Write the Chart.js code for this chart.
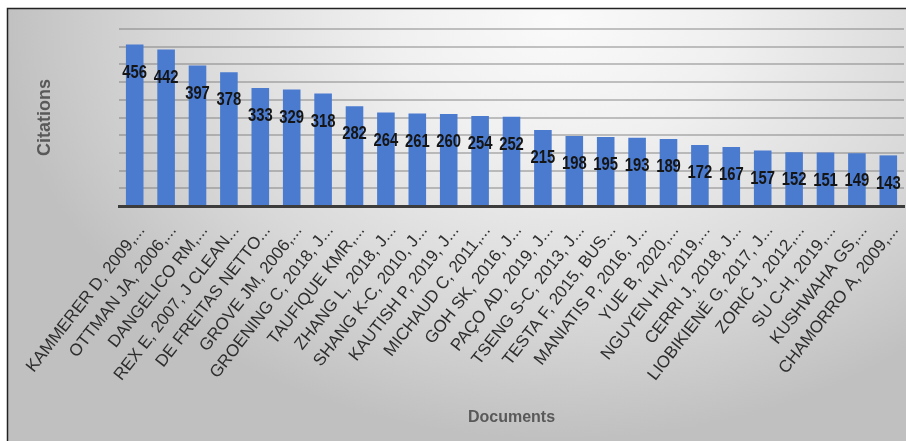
<!DOCTYPE html>
<html>
<head>
<meta charset="utf-8">
<script src="https://cdn.jsdelivr.net/npm/chart.js@4/dist/chart.umd.min.js"></script>
<style>
  html, body { margin: 0; padding: 0; background: #fff; }
  #wrap { width: 906px; height: 441px; position: relative; }
</style>
</head>
<body>
<div id="wrap"><canvas id="c" width="906" height="441"></canvas></div>
<script>
const documents = [
  "KAMMERER D, 2009,...", "OTTMAN JA, 2006,...", "DANGELICO RM,...", "REX E, 2007, J CLEAN...",
  "DE FREITAS NETTO...", "GROVE JM, 2006,...", "GROENING C, 2018, J...", "TAUFIQUE KMR,...",
  "ZHANG L, 2018, J...", "SHANG K-C, 2010, J...", "KAUTISH P, 2019, J...", "MICHAUD C, 2011,...",
  "GOH SK, 2016, J...", "PAÇO AD, 2019, J...", "TSENG S-C, 2013, J...", "TESTA F, 2015, BUS...",
  "MANIATIS P, 2016, J...", "YUE B, 2020,...", "NGUYEN HV, 2019,...", "CERRI J, 2018, J...",
  "LIOBIKIENĖ G, 2017, J...", "ZORIĆ J, 2012,...", "SU C-H, 2019,...", "KUSHWAHA GS,...",
  "CHAMORRO A, 2009,..."
];
const citations = [456, 442, 397, 378, 333, 329, 318, 282, 264, 261, 260, 254, 252, 215,
  198, 195, 193, 189, 172, 167, 157, 152, 151, 149, 143];
const yAxisTitle = "Citations";
const xAxisTitle = "Documents";

const bgPlugin = {
  id: 'bg',
  beforeDraw(chart) {
    const ctx = chart.ctx;
    const W = chart.width, H = chart.height;
    ctx.save();
    ctx.fillStyle = '#ffffff';
    ctx.fillRect(0, 0, W, H);
    ctx.save();
    ctx.beginPath();
    ctx.rect(8, 9, W - 8, H - 9);
    ctx.clip();
    ctx.translate(560, 20);
    ctx.scale(1, 0.75);
    const g = ctx.createRadialGradient(0, 0, 0, 0, 0, 560);
    g.addColorStop(0, '#fafafa');
    g.addColorStop(0.3, '#f0f0f0');
    g.addColorStop(0.7, '#d8d8d8');
    g.addColorStop(1, '#c0c0c0');
    ctx.fillStyle = g;
    ctx.fillRect(-700, -100, 1800, 800);
    ctx.restore();
    ctx.strokeStyle = '#222';
    ctx.lineWidth = 1.5;
    ctx.beginPath();
    ctx.moveTo(7.5, H);
    ctx.lineTo(7.5, 8.5);
    ctx.lineTo(W, 8.5);
    ctx.stroke();
    ctx.restore();
  }
};

const labelPlugin = {
  id: 'vals',
  afterDatasetsDraw(chart) {
    const ctx = chart.ctx;
    const meta = chart.getDatasetMeta(0);
    ctx.save();
    ctx.font = 'bold 19px "Liberation Sans", Arial, sans-serif';
    ctx.fillStyle = '#151515';
    ctx.textAlign = 'center';
    ctx.textBaseline = 'middle';
    meta.data.forEach((bar, i) => {
      ctx.save();
      ctx.translate(bar.x, bar.y + 28);
      ctx.scale(0.78, 1);
      ctx.fillText(String(chart.data.datasets[0].data[i]), 0, 0);
      ctx.restore();
    });
    ctx.restore();
  }
};

new Chart(document.getElementById('c'), {
  type: 'bar',
  data: {
    labels: documents,
    datasets: [{
      data: citations,
      backgroundColor: '#4a7bcf',
      borderWidth: 0,
      categoryPercentage: 1,
      barPercentage: 0.56
    }]
  },
  options: {
    responsive: false,
    animation: false,
    layout: { padding: { top: 29, right: 2, left: 0, bottom: 0 } },
    plugins: { legend: { display: false }, tooltip: { enabled: false } },
    scales: {
      x: {
        afterFit(s) { s.height = 235; s.paddingLeft = 0; s.paddingRight = 0; },
        grid: { display: false, drawTicks: false },
        border: { display: true, color: '#3c3c3c', width: 3 },
        ticks: {
          autoSkip: false,
          minRotation: 52,
          maxRotation: 52,
          padding: 15,
          labelOffset: 7,
          color: '#2e2e2e',
          font: { family: '"Liberation Sans", Arial, sans-serif', size: 17 }
        },
        title: {
          display: true,
          text: xAxisTitle,
          color: '#595959',
          font: { family: '"Liberation Sans", Arial, sans-serif', size: 16, weight: 'bold' },
          padding: { top: 0, bottom: 14 }
        }
      },
      y: {
        min: 0,
        max: 500,
        afterFit(s) { s.width = 119; s.paddingTop = 0; s.paddingBottom = 0; },
        ticks: { display: false, stepSize: 50 },
        grid: { color: 'rgba(110,110,110,0.4)', lineWidth: 2, drawTicks: false },
        border: { display: false },
        title: {
          display: true,
          text: yAxisTitle,
          color: '#595959',
          font: { family: '"Liberation Sans", Arial, sans-serif', size: 18, weight: 'bold' },
          padding: { top: 34, bottom: 0 }
        }
      }
    }
  },
  plugins: [bgPlugin, labelPlugin]
});
</script>
</body>
</html>
